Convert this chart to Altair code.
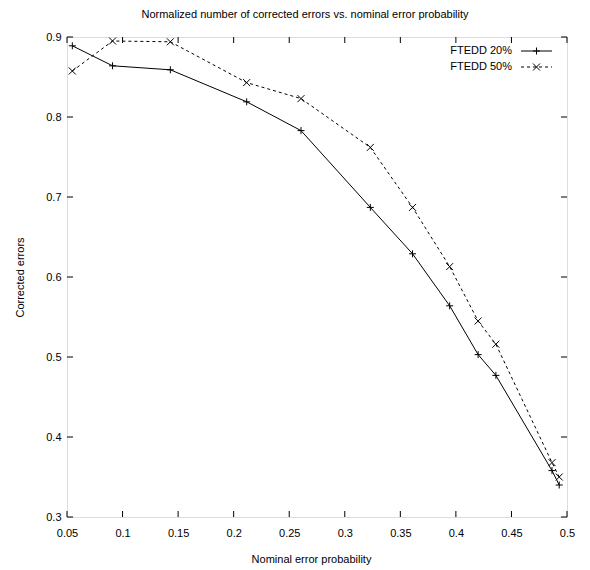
import altair as alt
import pandas as pd

# ---- data ----
x_prob = [0.0548, 0.091, 0.143, 0.2117, 0.2606, 0.323, 0.361, 0.3944, 0.420, 0.436, 0.4865, 0.493]
y_ftedd20 = [0.889, 0.864, 0.859, 0.819, 0.783, 0.687, 0.629, 0.564, 0.503, 0.477, 0.358, 0.340]
y_ftedd50 = [0.8575, 0.895, 0.894, 0.843, 0.823, 0.762, 0.687, 0.613, 0.545, 0.516, 0.368, 0.350]
series_names = ["FTEDD 20%", "FTEDD 50%"]
x_ticks = [0.05, 0.1, 0.15, 0.2, 0.25, 0.3, 0.35, 0.4, 0.45, 0.5]
y_ticks = [0.3, 0.4, 0.5, 0.6, 0.7, 0.8, 0.9]
title_text = "Normalized number of corrected errors vs. nominal error probability"
x_title = "Nominal error probability"
y_title = "Corrected errors"

FONT = "Liberation Sans, Arial, sans-serif"
FS = 11
W, H = 500, 480
PLUS = "M-1,0L1,0M0,-1L0,1"
CROSS = "M-1,-1L1,1M-1,1L1,-1"

df20 = pd.DataFrame({"p": x_prob, "v": y_ftedd20})
df50 = pd.DataFrame({"p": x_prob, "v": y_ftedd50})

xs = alt.Scale(domain=[0.05, 0.5], nice=False, zero=False)
ys = alt.Scale(domain=[0.3, 0.9], nice=False, zero=False)

x_axis = alt.Axis(values=x_ticks, format="~g", ticks=False, tickSize=0, domain=False, grid=False,
                  labelFont=FONT, labelFontSize=FS, labelColor="black", labelPadding=10,
                  labelFlush=False, title=x_title, titleFont=FONT, titleFontSize=FS,
                  titleFontWeight="normal", titleColor="black", titleX=244, titleY=42,
                  titleBaseline="middle", titleAlign="center")
y_axis = alt.Axis(values=y_ticks, format="~g", ticks=False, tickSize=0, domain=False, grid=False,
                  labelFont=FONT, labelFontSize=FS, labelColor="black", labelPadding=6,
                  labelFlush=False, labelBaseline="middle", title=y_title, titleFont=FONT,
                  titleFontSize=FS, titleFontWeight="normal", titleColor="black",
                  titleX=-47, titleY=240, titleAngle=270, titleBaseline="middle", titleAlign="center")

X = lambda f: alt.X(f, scale=xs, axis=x_axis)
Y = lambda f: alt.Y(f, scale=ys, axis=y_axis)

base20 = alt.Chart(df20)
base50 = alt.Chart(df50)

line20 = base20.mark_line(color="black", strokeWidth=1).encode(x=X("p:Q"), y=Y("v:Q"))
pts20 = base20.mark_point(shape=PLUS, filled=False, size=49, color="black", strokeWidth=1, opacity=1).encode(
    x=X("p:Q"), y=Y("v:Q"))
line50 = base50.mark_line(color="black", strokeWidth=1, strokeDash=[3, 3]).encode(x=X("p:Q"), y=Y("v:Q"))
pts50 = base50.mark_point(shape=CROSS, filled=False, size=49, color="black", strokeWidth=1, opacity=1).encode(
    x=X("p:Q"), y=Y("v:Q"))

# inward ticks on all four sides
xt = alt.Chart(pd.DataFrame({"p": x_ticks}))
yt = alt.Chart(pd.DataFrame({"v": y_ticks}))
tick_b = xt.mark_rule(color="black", strokeWidth=1).encode(
    x=X("p:Q"), y=alt.value(H), y2=alt.value(H - 6))
tick_t = xt.mark_rule(color="black", strokeWidth=1).encode(
    x=X("p:Q"), y=alt.value(0), y2=alt.value(6))
tick_l = yt.mark_rule(color="black", strokeWidth=1).encode(
    y=Y("v:Q"), x=alt.value(0), x2=alt.value(6))
tick_r = yt.mark_rule(color="black", strokeWidth=1).encode(
    y=Y("v:Q"), x=alt.value(W), x2=alt.value(W - 6))

# gnuplot-style key (labels left, samples right)
key_layers = []
for i, (name, dash, shape) in enumerate([(series_names[0], [1, 0], PLUS), (series_names[1], [3, 3], CROSS)]):
    ky = 14 + i * 16
    kd = alt.Chart(pd.DataFrame({"s": [name]}))
    key_layers.append(kd.mark_text(align="right", baseline="middle", font=FONT, fontSize=FS, color="black").encode(
        text="s:N", x=alt.value(445), y=alt.value(ky)))
    key_layers.append(kd.mark_rule(color="black", strokeWidth=1, strokeDash=dash).encode(
        x=alt.value(454), x2=alt.value(485), y=alt.value(ky)))
    key_layers.append(kd.mark_point(shape=shape, filled=False, size=49, color="black", strokeWidth=1, opacity=1).encode(
        x=alt.value(469.5), y=alt.value(ky)))

chart = alt.layer(line20, line50, pts20, pts50, tick_b, tick_t, tick_l, tick_r, *key_layers).properties(
    width=W, height=H,
    title=alt.TitleParams(title_text, font=FONT, fontSize=FS, fontWeight="normal", color="black",
                          anchor="middle", dx=-12, offset=11),
    autosize=alt.AutoSizeParams(type="none"),
    padding={"left": 59, "top": 29, "right": 15, "bottom": 60},
).configure_view(stroke="black", strokeWidth=1).configure(background="white")

chart.save("out.html", embed_options={"renderer": "svg", "actions": False})
